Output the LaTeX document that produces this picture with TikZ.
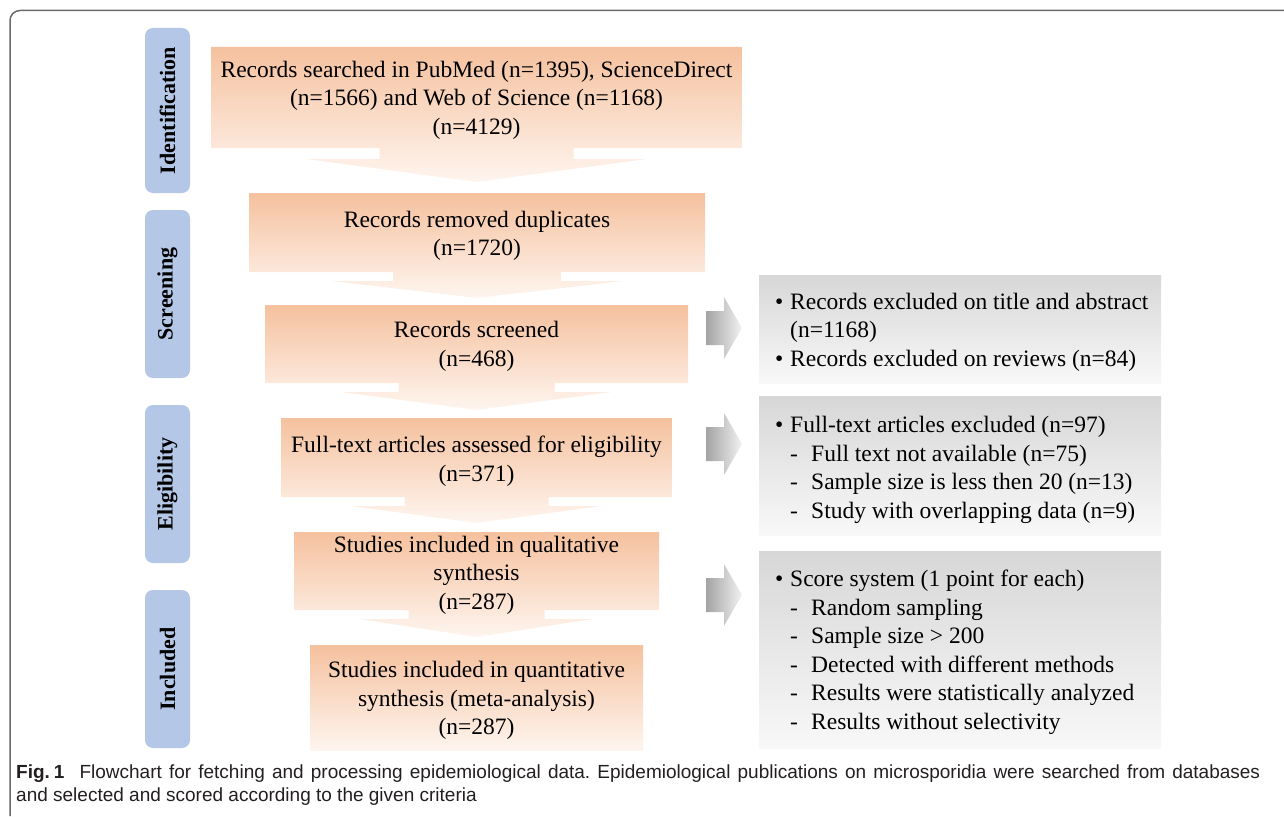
\documentclass[tikz,border=0pt]{standalone}
\usepackage{fontspec}
\setmainfont{Liberation Serif}
\newfontfamily\capfont{Liberation Sans}
\usetikzlibrary{backgrounds}
\definecolor{orT}{HTML}{F5C19E}
\definecolor{orB}{HTML}{FEF5EF}
\definecolor{phaseblue}{HTML}{B4C7E7}
\definecolor{grT}{HTML}{D7D7D7}
\definecolor{grB}{HTML}{F8F8F8}
\definecolor{arL}{HTML}{A3A3A3}
\definecolor{arR}{HTML}{F2F2F2}
\definecolor{capcol}{HTML}{231F20}
\definecolor{framecol}{HTML}{6A6A6A}
\tikzset{
  mainfont/.style={font=\fontsize{23.5}{28.5}\selectfont},
  obox/.style={mainfont, align=center, inner sep=0pt, text=black},
  orshade/.style={top color=orT, bottom color=orB, draw=none},
  phasebox/.style={fill=phaseblue, rounded corners=8pt, draw=none, inner sep=0pt},
  phasetext/.style={font=\fontsize{22}{26}\selectfont\bfseries, rotate=90, inner sep=0pt},
  gbox/.style={top color=grT, bottom color=grB, draw=none, inner sep=0pt},
  gtext/.style={mainfont, align=left, inner sep=0pt, anchor=west},
  garrow/.style={left color=arL, right color=arR, draw=none},
  captext/.style={font=\capfont\fontsize{19}{23}\selectfont\frenchspacing, text=capcol, inner sep=0pt, anchor=base west}
}
\newcommand\bul{\makebox[15pt][l]{\textbullet}}
\newcommand\ind{\hspace*{15pt}}
\newcommand\dsh{\hspace*{15pt}\makebox[21pt][l]{-}}
\begin{document}
\begin{tikzpicture}[x=1pt,y=-1pt]
\useasboundingbox (0,0) rectangle (1284,816);
% frame
\draw[framecol, line width=1.5pt, rounded corners=10pt] (10,816) -- (10,10.5) -- (1284,10.5);

% phase labels
\node[phasebox, minimum width=45pt, minimum height=165pt] (p1) at (167.5,110.5) {};
\node[phasetext] (p1t) at (p1.center) {Identification};
\node[phasebox, minimum width=45pt, minimum height=168pt] (p2) at (167.5,294) {};
\node[phasetext] (p2t) at (p2.center) {Screening};
\node[phasebox, minimum width=45pt, minimum height=158pt] (p3) at (167.5,484) {};
\node[phasetext] (p3t) at (p3.center) {Eligibility};
\node[phasebox, minimum width=45pt, minimum height=158pt] (p4) at (167.5,669) {};
\node[phasetext] (p4t) at (p4.center) {Included};

% orange boxes with down arrows
\path[orshade] (211,47) -- (742,47) -- (742,148) -- (573.5,148) -- (573.5,159) -- (646.5,159) -- (476.5,182) -- (306.5,159) -- (379.5,159) -- (379.5,148) -- (211,148) -- cycle;
\node[obox] (b1) at (476.5,100) {Records searched in PubMed (n=1395), ScienceDirect\\(n=1566) and Web of Science (n=1168)\\(n=4129)};

\path[orshade] (249,193) -- (705,193) -- (705,272) -- (561,272) -- (561,281) -- (623,281) -- (477,298) -- (331,281) -- (393,281) -- (393,272) -- (249,272) -- cycle;
\node[obox] (b2) at (477,236) {Records removed duplicates\\(n=1720)};

\path[orshade] (265,305) -- (688,305) -- (688,383) -- (554.5,383) -- (554.5,392) -- (611.5,392) -- (476.5,410) -- (341.5,392) -- (398.5,392) -- (398.5,383) -- (265,383) -- cycle;
\node[obox] (b3) at (476.5,346.5) {Records screened\\(n=468)};

\path[orshade] (281,418) -- (672,418) -- (672,497) -- (548.5,497) -- (548.5,506) -- (601.5,506) -- (476.5,523) -- (351.5,506) -- (404.5,506) -- (404.5,497) -- (281,497) -- cycle;
\node[obox] (b4) at (476.5,461) {Full-text articles assessed for eligibility\\(n=371)};

\path[orshade] (294,532) -- (659,532) -- (659,610) -- (544.5,610) -- (544.5,619) -- (593.5,619) -- (476.5,637) -- (359.5,619) -- (408.5,619) -- (408.5,610) -- (294,610) -- cycle;
\node[obox] (b5) at (476.5,575) {Studies included in qualitative\\synthesis\\(n=287)};

\path[orshade] (310,645) rectangle (643,750);
\node[obox] (b6) at (476.5,700.5) {Studies included in quantitative\\synthesis (meta-analysis)\\(n=287)};

% gray boxes
\node[gbox, minimum width=402pt, minimum height=108pt] (g1) at (960,329) {};
\node[gtext] (g1t) at (775,332) {\bul Records excluded on title and abstract\\\ind(n=1168)\\\bul Records excluded on reviews (n=84)};
\node[gbox, minimum width=402pt, minimum height=139pt] (g2) at (960,465.5) {};
\node[gtext] (g2t) at (775,470) {\bul Full-text articles excluded (n=97)\\\dsh Full text not available (n=75)\\\dsh Sample size is less then 20 (n=13)\\\dsh Study with overlapping data (n=9)};
\node[gbox, minimum width=402pt, minimum height=197pt] (g3) at (960,649.5) {};
\node[gtext] (g3t) at (775,652.5) {\bul Score system (1 point for each)\\\dsh Random sampling\\\dsh Sample size > 200\\\dsh Detected with different methods\\\dsh Results were statistically analyzed\\\dsh Results without selectivity};

% gray right arrows
\path[garrow] (706,311) -- (724,311) -- (724,297) -- (742,328) -- (724,359) -- (724,345) -- (706,345) -- cycle;
\path[garrow] (706,427) -- (724,427) -- (724,413) -- (742,444) -- (724,475) -- (724,461) -- (706,461) -- cycle;
\path[garrow] (706,578) -- (724,578) -- (724,564) -- (742,595) -- (724,626) -- (724,612) -- (706,612) -- cycle;

% caption
\node[captext] (c1) at (16,778) {\makebox[1244pt][s]{\mbox{\textbf{Fig.\kern0.2em1}}\kern0.8em Flowchart for fetching and processing epidemiological data. Epidemiological publications on microsporidia were searched from databases}};
\node[captext] (c2) at (16,801) {and selected and scored according to the given criteria};
\end{tikzpicture}
\end{document}
